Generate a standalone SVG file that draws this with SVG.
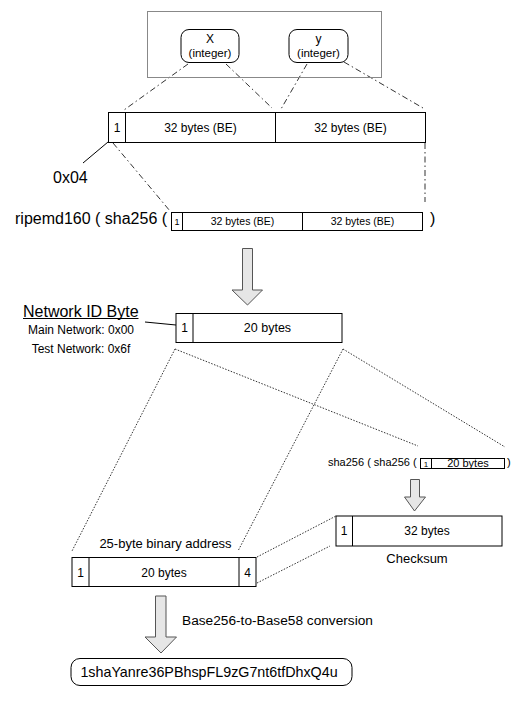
<svg xmlns="http://www.w3.org/2000/svg" width="526" height="701" viewBox="0 0 526 701">
<style>
text{font-family:"Liberation Sans",Arial,Helvetica,sans-serif;fill:#000}
.box{fill:#fff;stroke:#000;stroke-width:1}
.div{stroke:#000;stroke-width:1}
.dd{fill:none;stroke:#333;stroke-width:1;stroke-dasharray:6 3 1.5 3}
.dot{fill:none;stroke:#333;stroke-width:1;stroke-dasharray:1.5 1.5}
.solid{fill:none;stroke:#000;stroke-width:1}
.arrow{fill:#e6e6e6;stroke:#555;stroke-width:1}
.m{text-anchor:middle}
</style>
<rect width="526" height="701" fill="#fff"/>
<g id="connectors">
<path class="dd" d="M188,64 L124,110"/>
<path class="dd" d="M226,64 L272,108"/>
<path class="dd" d="M307,64 L281,109"/>
<path class="dd" d="M344,62 L423,108"/>
<path class="dd" d="M113,143 L170,211"/>
<path class="dd" d="M425,143 L425,202"/>
<path class="solid" d="M108,142 L83,163"/>
<path class="solid" d="M145,322 L176,325"/>
<path class="dot" d="M175,349 L72,551"/>
<path class="dot" d="M175,349 L418,446"/>
<path class="dot" d="M343,349 L238,551"/>
<path class="dot" d="M343,349 L505,447"/>
<path class="dot" d="M257,557 L336,516"/>
<path class="dot" d="M257,583 L330,546"/>
</g>
<g id="point-group">
<rect x="147.5" y="11.5" width="234" height="66" fill="none" stroke="#888" stroke-width="1"/>
</g>
<g id="node-x">
<rect class="box" x="181" y="29.5" width="58" height="33" rx="8"/>
<text class="m" x="210" y="43" font-size="12">X</text>
<text class="m" x="210" y="57" font-size="11.5">(integer)</text>
</g>
<g id="node-y">
<rect class="box" x="289" y="29.5" width="59" height="33" rx="8"/>
<text class="m" x="318.5" y="43" font-size="12">y</text>
<text class="m" x="318.5" y="57" font-size="11.5">(integer)</text>
</g>
<g id="pubkey">
<rect class="box" x="108.5" y="112.5" width="317" height="30"/>
<line class="div" x1="125.5" y1="112.5" x2="125.5" y2="142.5"/>
<line class="div" x1="275.5" y1="112.5" x2="275.5" y2="142.5"/>
<text class="m" x="117" y="132" font-size="12">1</text>
<text class="m" x="200.5" y="132" font-size="12">32 bytes (BE)</text>
<text class="m" x="350.5" y="132" font-size="12">32 bytes (BE)</text>
</g>
<g id="prefix-label">
<text x="53" y="183" font-size="16">0x04</text>
</g>
<g id="hash160">
<text x="15" y="224" font-size="16">ripemd160 ( sha256 (</text>
<rect class="box" x="171.5" y="212.5" width="251" height="18"/>
<line class="div" x1="182.5" y1="212.5" x2="182.5" y2="230.5"/>
<line class="div" x1="302.5" y1="212.5" x2="302.5" y2="230.5"/>
<text class="m" x="177" y="225" font-size="9">1</text>
<text class="m" x="242.5" y="225" font-size="10.5">32 bytes (BE)</text>
<text class="m" x="362.5" y="225" font-size="10.5">32 bytes (BE)</text>
<text x="430" y="224" font-size="16">)</text>
</g>
<g id="arrow1">
<path class="arrow" d="M242.5,248.5 H252.5 V290 H262.5 L247.5,305 L232,290 H242.5 Z"/>
</g>
<g id="network-id">
<text x="23" y="316.5" font-size="16">Network ID Byte</text>
<line x1="23" y1="318.5" x2="138.5" y2="318.5" stroke="#000" stroke-width="1"/>
<text class="m" x="81" y="334" font-size="12">Main Network: 0x00</text>
<text class="m" x="81" y="353" font-size="12">Test Network: 0x6f</text>
</g>
<g id="versioned">
<rect class="box" x="176" y="313.5" width="166" height="29"/>
<line class="div" x1="193" y1="313.5" x2="193" y2="342.5"/>
<text class="m" x="184.5" y="332" font-size="12">1</text>
<text class="m" x="267.5" y="332" font-size="12.5">20 bytes</text>
</g>
<g id="double-sha">
<text x="328" y="466" font-size="11">sha256 ( sha256 (</text>
<rect class="box" x="420.5" y="458.5" width="84" height="10"/>
<line class="div" x1="431.5" y1="458.5" x2="431.5" y2="468.5"/>
<text class="m" x="426" y="467" font-size="8">1</text>
<text class="m" x="468" y="467" font-size="11">20 bytes</text>
<text x="507" y="466" font-size="11">)</text>
</g>
<g id="arrow2">
<path class="arrow" d="M410.5,479.5 H419.5 V497 H425.5 L414.5,511 L404.5,497 H410.5 Z"/>
</g>
<g id="checksum">
<rect class="box" x="336" y="516" width="166" height="30"/>
<line class="div" x1="352.5" y1="516" x2="352.5" y2="546"/>
<text class="m" x="344" y="535" font-size="12">1</text>
<text class="m" x="427" y="535" font-size="12">32 bytes</text>
<text class="m" x="417" y="563" font-size="13">Checksum</text>
</g>
<g id="binary-address">
<text class="m" x="165.5" y="548" font-size="13">25-byte binary address</text>
<rect class="box" x="72" y="557.5" width="184" height="29"/>
<line class="div" x1="89" y1="557.5" x2="89" y2="586.5"/>
<line class="div" x1="239" y1="557.5" x2="239" y2="586.5"/>
<text class="m" x="80.5" y="577" font-size="12">1</text>
<text class="m" x="164" y="577" font-size="12">20 bytes</text>
<text class="m" x="247.5" y="577" font-size="12">4</text>
</g>
<g id="arrow3">
<path class="arrow" d="M155.5,596 H166 V637 H176.5 L161,653 L145,637 H155.5 Z"/>
<text x="182" y="624.5" font-size="13.7">Base256-to-Base58 conversion</text>
</g>
<g id="address">
<rect class="box" x="71" y="658.5" width="281" height="27" rx="9"/>
<text class="m" x="209" y="677" font-size="14.3">1shaYanre36PBhspFL9zG7nt6tfDhxQ4u</text>
</g>
</svg>
